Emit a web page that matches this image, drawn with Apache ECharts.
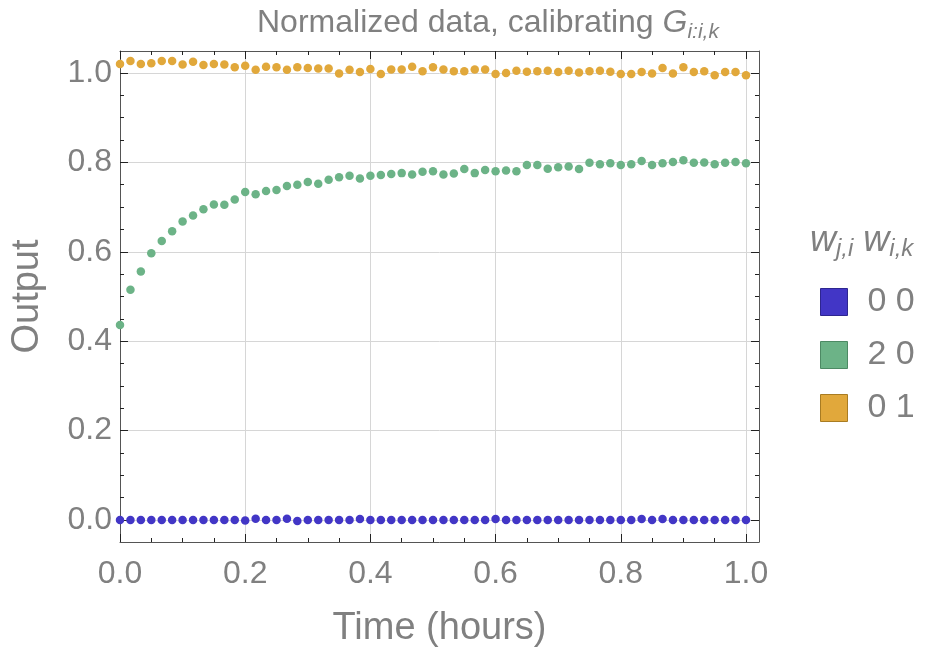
<!DOCTYPE html>
<html>
<head>
<meta charset="utf-8">
<script src="https://cdn.jsdelivr.net/npm/echarts@6/dist/echarts.min.js"></script>
<style>html,body{margin:0;padding:0;background:#fff;}#c{width:945px;height:647px;}</style>
</head>
<body>
<div id="c"></div>
<script>
const times = [0, 0.0167, 0.0333, 0.05, 0.0667, 0.0833, 0.1, 0.1167, 0.1333, 0.15, 0.1667, 0.1833, 0.2, 0.2167, 0.2333, 0.25, 0.2667, 0.2833, 0.3, 0.3167, 0.3333, 0.35, 0.3667, 0.3833, 0.4, 0.4167, 0.4333, 0.45, 0.4667, 0.4833, 0.5, 0.5167, 0.5333, 0.55, 0.5667, 0.5833, 0.6, 0.6167, 0.6333, 0.65, 0.6667, 0.6833, 0.7, 0.7167, 0.7333, 0.75, 0.7667, 0.7833, 0.8, 0.8167, 0.8333, 0.85, 0.8667, 0.8833, 0.9, 0.9167, 0.9333, 0.95, 0.9667, 0.9833, 1.0];
const blueValues = [0, 0, 0, 0, 0, 0, 0, 0, 0, 0, 0, 0, -0.001, 0.003, 0, 0, 0.003, -0.002, 0, 0, 0, 0, 0, 0.002, 0, 0, 0, 0, 0, 0, 0, 0, 0, 0, 0, 0, 0.002, 0, 0, 0, 0, 0, 0, 0, 0, 0, 0, 0, 0, 0, 0.002, 0, 0.002, 0, 0, 0, 0, 0, 0, 0, 0];
const greenValues = [0.436, 0.515, 0.556, 0.597, 0.624, 0.646, 0.668, 0.681, 0.695, 0.706, 0.705, 0.717, 0.734, 0.729, 0.736, 0.738, 0.747, 0.750, 0.756, 0.752, 0.761, 0.767, 0.770, 0.764, 0.770, 0.772, 0.774, 0.776, 0.773, 0.779, 0.780, 0.773, 0.775, 0.785, 0.776, 0.783, 0.780, 0.782, 0.780, 0.794, 0.794, 0.786, 0.789, 0.791, 0.785, 0.799, 0.796, 0.798, 0.794, 0.796, 0.803, 0.794, 0.798, 0.801, 0.805, 0.799, 0.800, 0.796, 0.799, 0.801, 0.798];
const orangeValues = [1.020, 1.027, 1.020, 1.022, 1.027, 1.027, 1.019, 1.025, 1.018, 1.020, 1.019, 1.013, 1.016, 1.007, 1.014, 1.013, 1.007, 1.013, 1.011, 1.010, 1.010, 0.999, 1.007, 1.002, 1.009, 0.998, 1.008, 1.008, 1.014, 1.004, 1.013, 1.008, 1.004, 1.004, 1.008, 1.008, 0.998, 1.000, 1.005, 1.003, 1.004, 1.005, 1.002, 1.005, 1.001, 1.004, 1.005, 1.003, 0.998, 0.998, 1.002, 0.999, 1.011, 0.999, 1.013, 1.002, 1.004, 0.995, 1.002, 1.002, 0.995];
const seriesNames = ['0 0', '2 0', '0 1'];
const seriesColors = ['#4236c6', '#6cb387', '#e1a83b'];
const seriesBorders = ['#2e2690', '#4d8a64', '#a97c22'];
const xTicks = [0, 0.2, 0.4, 0.6, 0.8, 1.0];
const yTicks = [0, 0.2, 0.4, 0.6, 0.8, 1.0];
const xMinorTicks = [0.05, 0.1, 0.15, 0.25, 0.3, 0.35, 0.45, 0.5, 0.55, 0.65, 0.7, 0.75, 0.85, 0.9, 0.95];
const yMinorTicks = [-0.05, 0.05, 0.1, 0.15, 0.25, 0.3, 0.35, 0.45, 0.5, 0.55, 0.65, 0.7, 0.75, 0.85, 0.9, 0.95, 1.05];

const FONT = '"Liberation Sans", Arial, sans-serif';
const GRAY = '#808080';
const FRAME = '#555555';
const TICK = '#222222';
const xMin = 0, xMax = 1.0208, yMin = -0.0492, yMax = 1.0492;

function axisBase(pos, isX, ticks, len, withLine, withLabel, withSplit) {
  return {
    type: 'value', position: pos, min: isX ? xMin : yMin, max: isX ? xMax : yMax,
    axisLine: { show: withLine, onZero: false, lineStyle: { color: FRAME, width: 1 } },
    axisTick: { show: true, inside: true, length: len, customValues: ticks, lineStyle: { color: TICK, width: 1 } },
    axisLabel: { show: withLabel, customValues: ticks, fontSize: 32, color: GRAY, fontFamily: FONT, margin: isX ? 16 : 8,
      formatter: v => Number(v).toFixed(1) },
    splitLine: { show: withSplit, lineStyle: { color: '#d6d6d6', width: 1 } },
    minorTick: { show: false }, minorSplitLine: { show: false }
  };
}

const xA0 = axisBase('bottom', true, xTicks, 8, true, true, true);
xA0.name = 'Time (hours)'; xA0.nameLocation = 'middle'; xA0.nameGap = 68;
xA0.nameTextStyle = { fontSize: 38, color: GRAY, fontFamily: FONT };
const yA0 = axisBase('left', false, yTicks, 8, true, true, true);
yA0.name = 'Output'; yA0.nameLocation = 'middle'; yA0.nameGap = 73;
yA0.nameTextStyle = { fontSize: 38, color: GRAY, fontFamily: FONT };

const option = {
  animation: false,
  backgroundColor: '#fff',
  textStyle: { fontFamily: FONT },
  title: [
    {
      left: 257, top: 3, padding: 0,
      text: '{n|Normalized data, calibrating }{g|G}{s|i:i,k}',
      textStyle: {
        fontWeight: 'normal',
        rich: {
          n: { fontSize: 32, color: GRAY, fontFamily: FONT, fontWeight: 'normal', lineHeight: 40 },
          g: { fontSize: 32, color: GRAY, fontFamily: FONT, fontWeight: 'normal', fontStyle: 'italic', lineHeight: 40 },
          s: { fontSize: 21, color: GRAY, fontFamily: FONT, fontWeight: 'normal', fontStyle: 'italic', lineHeight: 14, verticalAlign: 'bottom' }
        }
      }
    },
    {
      left: 810, top: 221, padding: 0,
      text: '{w|w}{s|j,i}{w|\u00a0w}{s|i,k}',
      textStyle: {
        fontWeight: 'normal',
        rich: {
          w: { fontSize: 36, color: GRAY, fontFamily: FONT, fontWeight: 'normal', fontStyle: 'italic', lineHeight: 40 },
          s: { fontSize: 24, color: GRAY, fontFamily: FONT, fontWeight: 'normal', fontStyle: 'italic', lineHeight: 16, verticalAlign: 'bottom' }
        }
      }
    }
  ],
  legend: {
    orient: 'vertical', left: 820, top: 285, padding: 0,
    itemWidth: 27, itemHeight: 27, itemGap: 19,
    icon: 'rect', selectedMode: false,
    textStyle: { fontSize: 34, color: GRAY, fontFamily: FONT, padding: [0, 0, 0, 15] },
    data: seriesNames.map((n, i) => ({ name: n, itemStyle: { color: seriesColors[i], borderColor: seriesBorders[i], borderWidth: 1 } }))
  },
  grid: { left: 120, right: 186, top: 51, bottom: 105, outerBoundsMode: 'none', containLabel: false },
  xAxis: [
    xA0,
    axisBase('bottom', true, xMinorTicks, 4, false, false, false),
    axisBase('top', true, xTicks, 8, true, false, false),
    axisBase('top', true, xMinorTicks, 4, false, false, false)
  ],
  yAxis: [
    yA0,
    axisBase('left', false, yMinorTicks, 4, false, false, false),
    axisBase('right', false, yTicks, 8, true, false, false),
    axisBase('right', false, yMinorTicks, 4, false, false, false)
  ],
  series: [blueValues, greenValues, orangeValues].map((vals, i) => ({
    name: seriesNames[i], type: 'scatter', xAxisIndex: 0, yAxisIndex: 0,
    symbol: 'circle', symbolSize: 8.5, clip: false,
    itemStyle: { color: seriesColors[i], opacity: 1 },
    data: times.map((t, k) => [t, vals[k]])
  }))
};

const chart = echarts.init(document.getElementById('c'), null, { renderer: 'canvas' });
chart.setOption(option);
</script>
</body>
</html>
